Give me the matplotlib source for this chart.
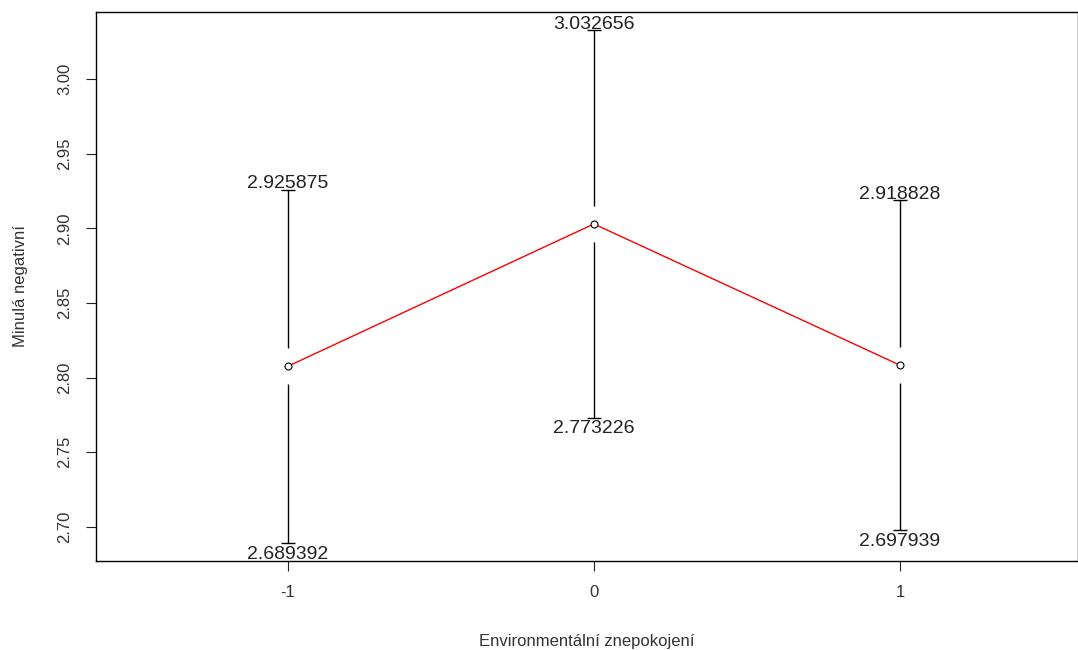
import numpy as np
import matplotlib.pyplot as plt

plt.rcParams['font.family'] = ['Liberation Sans', 'DejaVu Sans']

# data
levels = [-1, 0, 1]
upper = [2.925875, 3.032656, 2.918828]
lower = [2.689392, 2.773226, 2.697939]
means = [(u + l) / 2 for u, l in zip(upper, lower)]

fig = plt.figure(figsize=(10.78, 6.5), dpi=100)
ax = fig.add_axes([96 / 1078, 1 - 561 / 650, 982 / 1078, 549 / 650])

ax.set_xlim(-1.627, 1.582)
ax.set_ylim(2.6772, 3.0449)

gap = 0.012
cap = 0.023
for x, m, lo, hi in zip(levels, means, lower, upper):
    ax.vlines(x, m + gap, hi, color='black', lw=1)
    ax.vlines(x, lo, m - gap, color='black', lw=1)
    ax.hlines([lo, hi], x - cap, x + cap, color='black', lw=1)
    ax.annotate(f'{hi:.6f}', (x, hi), xytext=(0, -2), textcoords='offset points',
                ha='center', va='bottom', fontsize=14, color='#222222')
    ax.annotate(f'{lo:.6f}', (x, lo), xytext=(0, -2), textcoords='offset points',
                ha='center', va='top', fontsize=14, color='#222222')

ax.plot(levels, means, color='red', lw=1, zorder=3)
ax.plot(levels, means, 'o', ms=5, mfc='white', mec='black', mew=0.8, zorder=4)

ax.set_xticks(levels)
ax.set_xticklabels(['-1', '0', '1'])
ax.set_yticks([2.70, 2.75, 2.80, 2.85, 2.90, 2.95, 3.00])
ax.set_yticklabels(['2.70', '2.75', '2.80', '2.85', '2.90', '2.95', '3.00'],
                   rotation=90, va='center')
ax.tick_params(labelsize=12, length=7, colors='#222222', labelcolor='#333333', pad=10)
for s in ax.spines.values():
    s.set_linewidth(1)
    s.set_color('black')

ax.set_xlabel('Environmentální znepokojení', fontsize=12, color='#333333', labelpad=25)
ax.set_ylabel('Minulá negativní', fontsize=12, color='#333333', labelpad=21)

fig.savefig('out.png', dpi=100)
